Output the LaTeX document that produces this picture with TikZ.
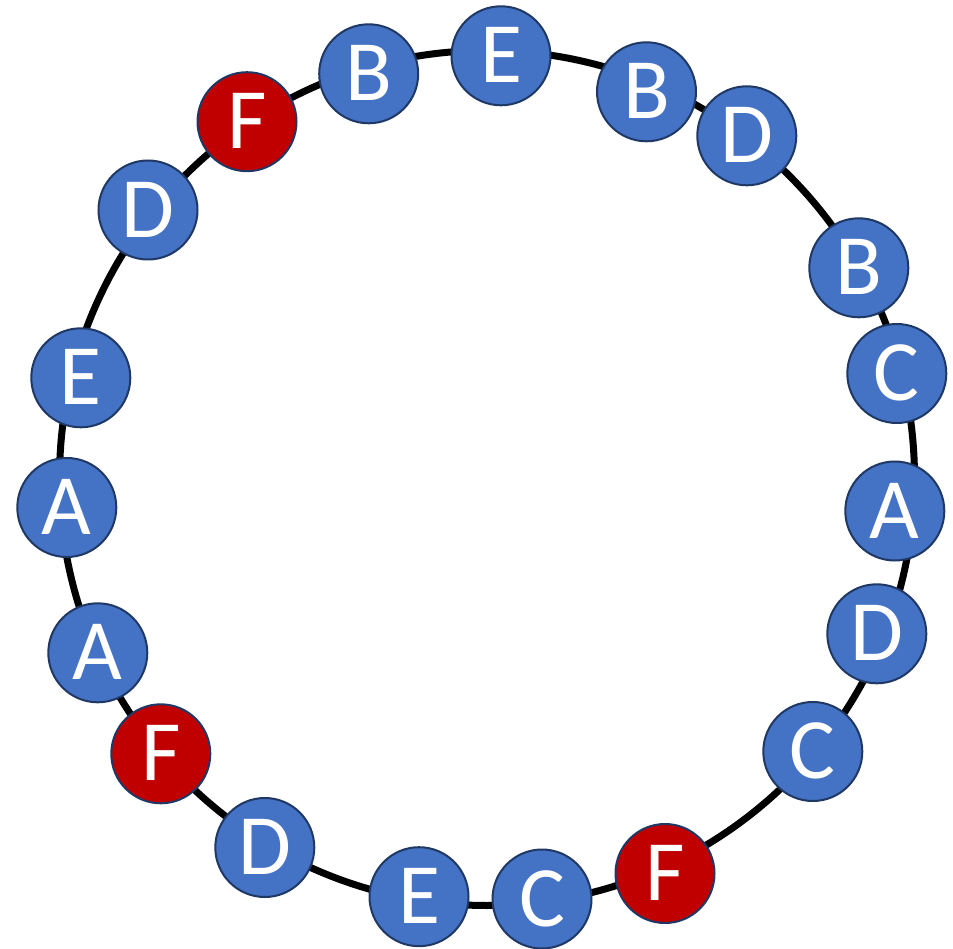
\documentclass[tikz,border=0pt]{standalone}
\usepackage{fontspec}
\setmainfont{Carlito}
\definecolor{nodeblue}{HTML}{4472C4}
\definecolor{nodered}{HTML}{C00000}
\definecolor{nodeedge}{HTML}{1F3864}
\begin{document}
\begin{tikzpicture}[x=1pt,y=-1pt,
  ring/.style={line width=7pt,black},
  letter/.style={circle,draw=nodeedge,line width=2pt,inner sep=0pt,minimum size=99pt,
    text=white,font=\fontsize{86}{86}\selectfont,text height=54.3pt,text depth=0pt},
  bnode/.style={letter,fill=nodeblue},
  rnode/.style={letter,fill=nodered}]
\useasboundingbox (0,0) rectangle (953,949);
\coordinate (ctr) at (487,478);
\draw[ring] (ctr) circle (427.5);
\node[bnode] (e1) at (501,55.8) {E};
\node[bnode] (b1) at (368.7,73.8) {B};
\node[rnode] (f1) at (247,121.7) {F};
\node[bnode] (d1) at (148,210) {D};
\node[bnode] (e2) at (80.8,377.8) {E};
\node[bnode] (a1) at (66.8,507.5) {A};
\node[bnode] (a2) at (97.8,652.8) {A};
\node[rnode] (f2) at (160.8,753.8) {F};
\node[bnode] (d2) at (264.8,847.5) {D};
\node[bnode] (e3) at (419,896.7) {E};
\node[bnode] (c1) at (542,899) {C};
\node[rnode] (f3) at (665,873.5) {F};
\node[bnode] (c2) at (812.8,751.5) {C};
\node[bnode] (d3) at (876.8,633.8) {D};
\node[bnode] (a3) at (894.8,511) {A};
\node[bnode] (c3) at (896.8,373.5) {C};
\node[bnode] (b2) at (858.8,267.8) {B};
\node[bnode] (d4) at (746.8,135.8) {D};
\node[bnode] (b3) at (646.5,91.8) {B};
\end{tikzpicture}
\end{document}
